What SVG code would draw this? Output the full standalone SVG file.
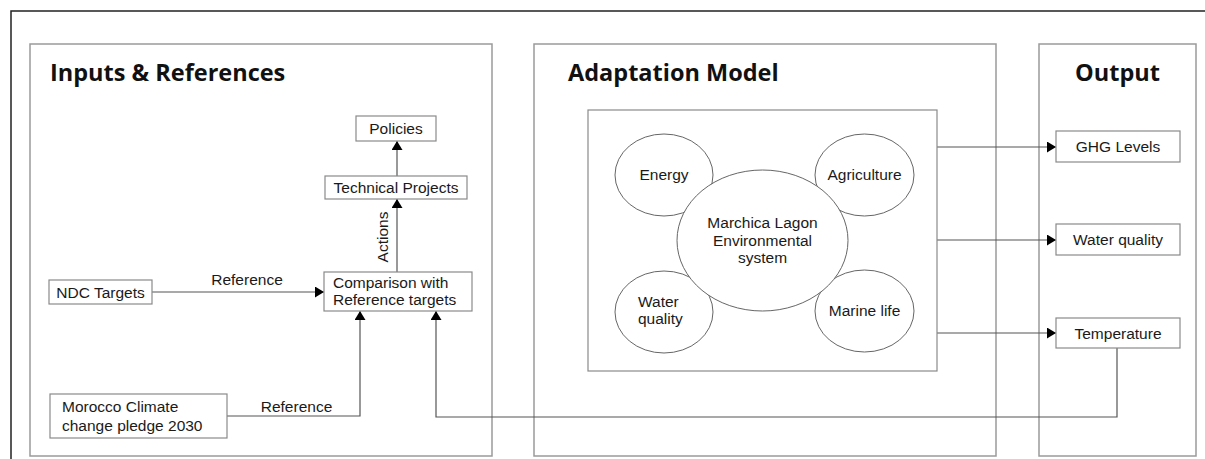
<svg xmlns="http://www.w3.org/2000/svg" width="1205" height="459" viewBox="0 0 1205 459">
<style>
.panel{fill:none;stroke:#9a9a9a;stroke-width:1.5}
.box{fill:#fff;stroke:#8a8a8a;stroke-width:1.2}
.ell{fill:#fff;stroke:#666;stroke-width:1}
.conn{fill:none;stroke:#555;stroke-width:1.2}
.t{font-family:"Liberation Sans",Arial,sans-serif;font-size:15.5px;fill:#1a1a1a}
.c{text-anchor:middle}
.title{font-family:"Open Sans","Liberation Sans",sans-serif;font-size:23.5px;font-weight:bold;fill:#111}
</style>
<defs>
<marker id="ah" markerWidth="9" markerHeight="11" refX="9" refY="5.5" orient="auto" markerUnits="userSpaceOnUse">
<path d="M0,0 L9,5.5 L0,11 Z" fill="#000"/>
</marker>
</defs>
<rect width="1205" height="459" fill="#fff"/>
<path d="M11,459 L11,11 L1205,11" fill="none" stroke="#222" stroke-width="1.5"/>

<g id="panel-inputs">
<rect class="panel" x="30" y="44" width="462" height="412"/>
<text class="title" x="50" y="81">Inputs &amp; References</text>
</g>
<g id="panel-model">
<rect class="panel" x="534" y="44" width="462" height="412"/>
<text class="title" x="568" y="81">Adaptation Model</text>
</g>
<g id="panel-output">
<rect class="panel" x="1039" y="44" width="157" height="412"/>
<text class="title" x="1117.5" y="81" text-anchor="middle">Output</text>
</g>

<g id="connectors">
<path class="conn" d="M397,176 L397,141" marker-end="url(#ah)"/>
<path class="conn" d="M397,272 L397,199" marker-end="url(#ah)"/>
<path class="conn" d="M152,292 L324,292" marker-end="url(#ah)"/>
<path class="conn" d="M227,416 L360,416 L360,311" marker-end="url(#ah)"/>
<path class="conn" d="M1117,348 L1117,417 L436,417 L436,311" marker-end="url(#ah)"/>
<path class="conn" d="M937,147 L1056,147" marker-end="url(#ah)"/>
<path class="conn" d="M937,240 L1056,240" marker-end="url(#ah)"/>
<path class="conn" d="M937,333 L1056,333" marker-end="url(#ah)"/>
<text class="t c" x="247" y="285">Reference</text>
<text class="t c" x="296.5" y="412">Reference</text>
<text class="t c" transform="translate(388,237) rotate(-90)">Actions</text>
</g>

<g id="policies">
<rect class="box" x="356" y="116" width="80" height="25"/>
<text class="t c" x="396" y="134">Policies</text>
</g>
<g id="technical-projects">
<rect class="box" x="325" y="176" width="142" height="23"/>
<text class="t c" x="396" y="193">Technical Projects</text>
</g>
<g id="comparison">
<rect class="box" x="324" y="272" width="148" height="39"/>
<text class="t" x="333" y="287.5">Comparison with</text>
<text class="t" x="333" y="305">Reference targets</text>
</g>
<g id="ndc-targets">
<rect class="box" x="49" y="280" width="103" height="24"/>
<text class="t c" x="100.5" y="297.5">NDC Targets</text>
</g>
<g id="morocco-pledge">
<rect class="box" x="50" y="394" width="177" height="44"/>
<text class="t" x="62" y="412">Morocco Climate</text>
<text class="t" x="62" y="431">change pledge 2030</text>
</g>

<g id="model-box">
<rect class="box" x="588" y="110" width="349" height="261"/>
</g>
<g id="energy">
<ellipse class="ell" cx="664" cy="175" rx="49" ry="41"/>
<text class="t c" x="664" y="180">Energy</text>
</g>
<g id="agriculture">
<ellipse class="ell" cx="864.5" cy="175" rx="49.5" ry="41"/>
<text class="t c" x="864.5" y="180">Agriculture</text>
</g>
<g id="water-quality-model">
<ellipse class="ell" cx="664" cy="312" rx="49" ry="41"/>
<text class="t" x="638" y="306.5">Water</text>
<text class="t" x="638" y="324">quality</text>
</g>
<g id="marine-life">
<ellipse class="ell" cx="864.5" cy="311" rx="49.5" ry="41"/>
<text class="t c" x="864.5" y="316">Marine life</text>
</g>
<g id="marchica">
<ellipse class="ell" cx="762.5" cy="240.5" rx="85.5" ry="70.5"/>
<text class="t c" x="762.5" y="228">Marchica Lagon</text>
<text class="t c" x="762.5" y="245.5">Environmental</text>
<text class="t c" x="762.5" y="263">system</text>
</g>

<g id="ghg-levels">
<rect class="box" x="1056" y="131" width="124" height="31"/>
<text class="t c" x="1118" y="152">GHG Levels</text>
</g>
<g id="water-quality-out">
<rect class="box" x="1056" y="224" width="124" height="31"/>
<text class="t c" x="1118" y="245">Water quality</text>
</g>
<g id="temperature">
<rect class="box" x="1056" y="318" width="124" height="30"/>
<text class="t c" x="1118" y="339">Temperature</text>
</g>
</svg>
